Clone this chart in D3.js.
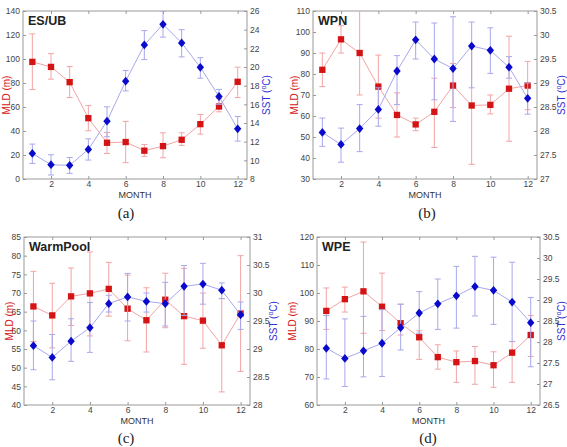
<!DOCTYPE html>
<html><head><meta charset="utf-8">
<script src="https://cdn.jsdelivr.net/npm/d3@7/dist/d3.min.js"></script>
<style>body{margin:0;background:#fff;}svg{display:block;}</style>
</head><body>
<script>
const months = [1,2,3,4,5,6,7,8,9,10,11,12];
const monthTicks = [2,4,6,8,10,12];

// (a) ES/UB
const mldA    = [97.6,93.4,80.7,50.7,30.2,30.8,23.6,27.4,32.7,45.7,60.4,81.0];
const mldA_lo = [74.6,83.2,67.9,40.2,21.3,13.6,18.9,17.7,28.0,37.4,56.0,67.9];
const mldA_hi = [120.9,104.5,93.7,61.3,38.8,48.0,28.8,38.5,38.5,53.8,67.0,93.2];
const sstA    = [10.74,9.53,9.46,11.17,14.2,18.48,22.36,24.57,22.58,19.97,16.84,13.38];
const sstA_lo = [9.67,8.43,8.6,10.03,12.53,17.44,20.8,23.2,21.08,18.8,16.0,12.06];
const sstA_hi = [11.74,10.6,10.3,12.3,15.73,19.62,23.9,26.0,24.0,21.0,17.6,14.7];
const mldTicksA = [0,20,40,60,80,100,120,140];
const sstTicksA = [8,10,12,14,16,18,20,22,24,26];

// (b) WPN
const mldB    = [82,96.5,90,74,60.5,56,62,74.5,65,65.3,73,74.5];
const mldB_lo = [74,90,70,59,50,53,45,64,37,61,48,63];
const mldB_hi = [90,103,112,89,71,59,78,85,93,70,98,86];
const sstB    = [27.97,27.72,28.05,28.45,29.25,29.9,29.5,29.3,29.77,29.68,29.33,28.68];
const sstB_lo = [27.68,27.35,27.57,28.1,28.55,29.5,28.65,28.2,28.9,29.2,29.1,28.35];
const sstB_hi = [28.27,28.06,28.55,28.9,29.57,30.27,30.25,30.38,30.27,30.15,29.55,29.0];
const mldTicksB = [30,40,50,60,70,80,90,100,110];
const sstTicksB = [27,27.5,28,28.5,29,29.5,30,30.5];

// (c) WarmPool
const mldC    = [66.4,64,69.1,69.9,71.1,65.8,62.7,68.2,63.8,62.6,56,64.5];
const mldC_lo = [57,55.3,61.3,58.5,63.8,57.2,54.2,60.7,50.9,55.2,43.5,49];
const mldC_hi = [75.8,72.6,76.7,81,78.2,74.8,71.4,75.3,76.6,70,68.5,80];
const sstC    = [29.06,28.85,29.14,29.38,29.81,29.93,29.85,29.81,30.12,30.16,30.05,29.61];
const sstC_lo = [28.63,28.45,28.78,28.94,29.66,29.5,29.66,29.41,29.6,29.8,29.9,29.35];
const sstC_hi = [29.5,29.26,29.54,29.83,29.96,30.35,30.0,30.19,30.49,30.53,30.18,29.84];
const mldTicksC = [40,45,50,55,60,65,70,75,80,85];
const sstTicksC = [28,28.5,29,29.5,30,30.5,31];

// (d) WPE
const mldD    = [93.6,97.8,100.6,95.1,89.2,84.2,77.1,75.3,75.7,74.2,78.7,85];
const mldD_lo = [87,93.2,85.6,86.6,85,76.3,72.8,68.1,67.4,66.3,68.1,77.3];
const mldD_hi = [101.8,102.1,118.2,107.1,96,86.5,81.5,79.3,80.9,79,82.7,92];
const sstD    = [27.85,27.61,27.79,27.97,28.34,28.69,28.91,29.1,29.32,29.23,28.95,28.46];
const sstD_lo = [27.12,26.94,27.17,27.18,27.81,28.21,28.3,28.33,28.62,28.42,28.01,27.41];
const sstD_hi = [28.63,28.55,28.61,28.77,28.9,29.2,29.5,29.8,30.04,30.02,29.9,29.06];
const mldTicksD = [60,70,80,90,100,110,120];
const sstTicksD = [26.5,27,27.5,28,28.5,29,29.5,30,30.5];

const panelNames = ["ES/UB","WPN","WarmPool","WPE"];
const captions = ["(a)","(b)","(c)","(d)"];

const W = 567, H = 447;
const svg = d3.select("body").append("svg").attr("width",W).attr("height",H);
svg.append("rect").attr("width",W).attr("height",H).attr("fill","#fff");

const panels = [
  {box:[23,247,11,179], mld:mldA, mlo:mldA_lo, mhi:mldA_hi, sst:sstA, slo:sstA_lo, shi:sstA_hi, mt:mldTicksA, st:sstTicksA, mlx:6, slx:266, cap:[126,213]},
  {box:[313,537,11,179], mld:mldB, mlo:mldB_lo, mhi:mldB_hi, sst:sstB, slo:sstB_lo, shi:sstB_hi, mt:mldTicksB, st:sstTicksB, mlx:294, slx:561, cap:[427,213]},
  {box:[24,250,237,405], mld:mldC, mlo:mldC_lo, mhi:mldC_hi, sst:sstC, slo:sstC_lo, shi:sstC_hi, mt:mldTicksC, st:sstTicksC, mlx:9, slx:273, cap:[126,438]},
  {box:[317,540,237,405], mld:mldD, mlo:mldD_lo, mhi:mldD_hi, sst:sstD, slo:sstD_lo, shi:sstD_hi, mt:mldTicksD, st:sstTicksD, mlx:292, slx:561, cap:[428,438]}
];

const RED = "#d41414", RED_L = "#f2a4a4", BLUE = "#0a0acc", BLUE_L = "#a8a8ec";
const FONT = "Liberation Sans, Arial, sans-serif";
const diamondPath = "M0,-4.4L3.7,0L0,4.4L-3.7,0Z";

panels.forEach((p,i) => {
  const [x0,x1,y0,y1] = p.box;
  const x = d3.scaleLinear().domain([0.5,12.5]).range([x0,x1]);
  const yM = d3.scaleLinear().domain(d3.extent(p.mt)).range([y1,y0]);
  const yS = d3.scaleLinear().domain(d3.extent(p.st)).range([y1,y0]);
  const g = svg.append("g");
  const cid = "clip"+i;
  svg.append("clipPath").attr("id",cid).append("rect")
    .attr("x",x0).attr("y",y0).attr("width",x1-x0).attr("height",y1-y0);

  const axL = d3.axisLeft(yM).tickValues(p.mt).tickSize(-3).tickPadding(3).tickFormat(d=>String(d));
  const axR = d3.axisRight(yS).tickValues(p.st).tickSize(-3).tickPadding(3).tickFormat(d=>String(d));
  const axB = d3.axisBottom(x).tickValues(monthTicks).tickSize(-3).tickPadding(2).tickFormat(d=>String(d));
  const axT = d3.axisTop(x).tickValues(monthTicks).tickSize(-3).tickFormat("");
  [[axL,`translate(${x0},0)`],[axR,`translate(${x1},0)`],[axB,`translate(0,${y1})`],[axT,`translate(0,${y0})`]].forEach(([ax,tr])=>{
    const a = g.append("g").attr("transform",tr).call(ax);
    a.select(".domain").remove();
    a.selectAll("line").attr("stroke","#999");
    a.selectAll("text").attr("fill","#444").attr("font-size",8.5).attr("font-family",FONT);
  });
  g.append("rect").attr("x",x0).attr("y",y0).attr("width",x1-x0).attr("height",y1-y0)
    .attr("fill","none").attr("stroke","#999").attr("stroke-width",1);

  const plot = g.append("g").attr("clip-path",`url(#${cid})`);
  const cap = 3;
  function series(vals, lo, hi, yScale, lightCol, col, shape){
    const s = plot.append("g");
    s.append("path").datum(vals)
      .attr("d", d3.line().x((d,j)=>x(months[j])).y(d=>yScale(d)))
      .attr("fill","none").attr("stroke",lightCol).attr("stroke-width",1);
    months.forEach((m,j)=>{
      const xx = x(m);
      s.append("line").attr("x1",xx).attr("x2",xx).attr("y1",yScale(lo[j])).attr("y2",yScale(hi[j])).attr("stroke",lightCol).attr("stroke-width",1);
      [lo[j],hi[j]].forEach(v=>{
        s.append("line").attr("x1",xx-cap).attr("x2",xx+cap).attr("y1",yScale(v)).attr("y2",yScale(v)).attr("stroke",lightCol).attr("stroke-width",1);
      });
    });
    s.selectAll("path.mk").data(vals).enter().append("path").attr("class","mk")
      .attr("transform",(d,j)=>`translate(${x(months[j])},${yScale(d)})`)
      .attr("d", shape==="sq" ? d3.symbol(d3.symbolSquare, 40)() : diamondPath)
      .attr("fill",col);
  }
  series(p.mld,p.mlo,p.mhi,yM,RED_L,RED,"sq");
  series(p.sst,p.slo,p.shi,yS,BLUE_L,BLUE,"dm");

  g.append("text").attr("x",x0+5).attr("y",y0+14).text(panelNames[i])
    .attr("font-family",FONT).attr("font-weight","bold").attr("font-size",12.5).attr("fill","#222");
  g.append("text").attr("x",(x0+x1)/2).attr("y",y1+18.5).attr("text-anchor","middle").text("MONTH")
    .attr("font-family",FONT).attr("font-size",9).attr("fill","#333");
  const ym = (y0+y1)/2;
  g.append("text").attr("transform",`translate(${p.mlx},${ym}) rotate(-90)`).attr("text-anchor","middle")
    .attr("dy","0.35em").text("MLD (m)").attr("font-family",FONT).attr("font-size",10).attr("fill",RED);
  const st = g.append("text").attr("transform",`translate(${p.slx},${ym}) rotate(-90)`).attr("text-anchor","middle")
    .attr("dy","0.35em").attr("font-family",FONT).attr("font-size",10).attr("fill","#3030d8");
  st.append("tspan").text("SST (");
  st.append("tspan").text("o").attr("font-size",7).attr("dy","-0.45em");
  st.append("tspan").text("C)").attr("dy","0.32em");
  svg.append("text").attr("x",p.cap[0]).attr("y",p.cap[1]+5).attr("text-anchor","middle").text(captions[i])
    .attr("font-family","Liberation Serif, Times New Roman, serif").attr("font-size",15).attr("fill","#222");
});
</script>
</body></html>
